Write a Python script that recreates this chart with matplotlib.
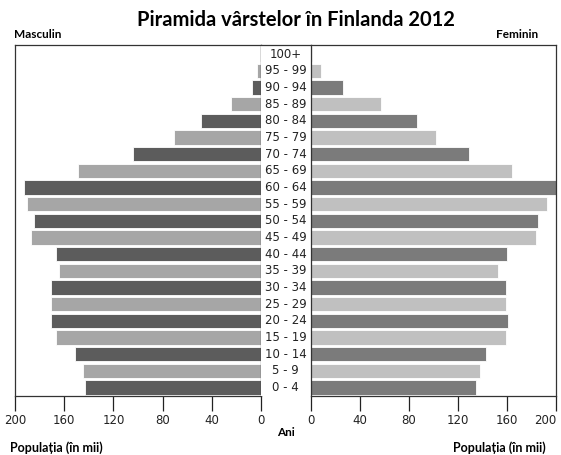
import matplotlib.pyplot as plt
import numpy as np

# grupe de varsta (de jos in sus)
grupe = ['0 - 4', '5 - 9', '10 - 14', '15 - 19', '20 - 24', '25 - 29', '30 - 34',
         '35 - 39', '40 - 44', '45 - 49', '50 - 54', '55 - 59', '60 - 64', '65 - 69',
         '70 - 74', '75 - 79', '80 - 84', '85 - 89', '90 - 94', '95 - 99', '100+']
# populatia in mii
masculin = [143, 145, 151, 167, 171, 171, 171, 164, 167, 187, 185, 190, 193, 149,
            104, 71, 49, 24, 7, 3, 1]
feminin = [135, 138, 143, 159, 161, 159, 159, 153, 160, 184, 185, 193, 202, 164,
           129, 102, 87, 57, 26, 8, 1]
ticks = [0, 40, 80, 120, 160, 200]

# culori alternative
col_m = ['#5c5c5c' if i % 2 == 0 else '#a6a6a6' for i in range(len(grupe))]
col_f = ['#7b7b7b' if i % 2 == 0 else '#c0c0c0' for i in range(len(grupe))]

fig = plt.figure(figsize=(5.61, 4.55), dpi=100)
y = np.arange(len(grupe))

ax_m = fig.add_axes([0.027, 0.130, 0.438, 0.771])
ax_c = fig.add_axes([0.465, 0.130, 0.089, 0.771])
ax_f = fig.add_axes([0.554, 0.130, 0.437, 0.771])

ax_m.barh(y, masculin, height=0.86, color=col_m, edgecolor='white', linewidth=0.6)
ax_f.barh(y, feminin, height=0.86, color=col_f, edgecolor='white', linewidth=0.6)

ax_m.set_xlim(200, 0)
ax_f.set_xlim(0, 200)
for ax in (ax_m, ax_f, ax_c):
    ax.set_ylim(-0.5, 20.55)
    ax.set_yticks([])
for ax in (ax_m, ax_f):
    ax.set_xticks(ticks)
    ax.tick_params(axis='x', direction='out', length=11, width=0.9, labelsize=8.5, pad=2,
                   colors='#222222')
    for s in ax.spines.values():
        s.set_linewidth(0.9)
        s.set_color('#333333')
# ultima eticheta (200) sa nu iasa din imagine
ax_f.get_xticklabels()[-1].set_horizontalalignment('right')
ax_f.get_xticklabels()[-1].set_x(0)

# coloana din mijloc cu grupele de varsta
ax_c.set_xlim(0, 1)
ax_c.set_xticks([])
for s in ['left', 'right', 'bottom']:
    ax_c.spines[s].set_visible(False)
ax_c.spines['top'].set_linewidth(0.9)
ax_c.spines['top'].set_color('#333333')
for i, g in enumerate(grupe):
    ax_c.text(0.5, i, g, ha='center', va='center', fontsize=8.5, color='#222222')

fig.text(0.527, 0.955, 'Piramida vârstelor în Finlanda 2012', ha='center', va='center',
         fontsize=14.5, fontweight='bold', family='Lato')
fig.text(0.025, 0.925, 'Masculin', ha='left', va='center', fontsize=8.5,
         fontweight='bold', family='Lato')
fig.text(0.960, 0.925, 'Feminin', ha='right', va='center', fontsize=8.5,
         fontweight='bold', family='Lato')
fig.text(0.510, 0.050, 'Ani', ha='center', va='center', fontsize=8.5,
         fontweight='bold', family='Lato')
fig.text(0.018, 0.016, 'Populația (în mii)', ha='left', va='center', fontsize=9,
         fontweight='bold', family='Lato')
fig.text(0.972, 0.016, 'Populația (în mii)', ha='right', va='center', fontsize=9,
         fontweight='bold', family='Lato')

plt.savefig('out.png', dpi=100)
